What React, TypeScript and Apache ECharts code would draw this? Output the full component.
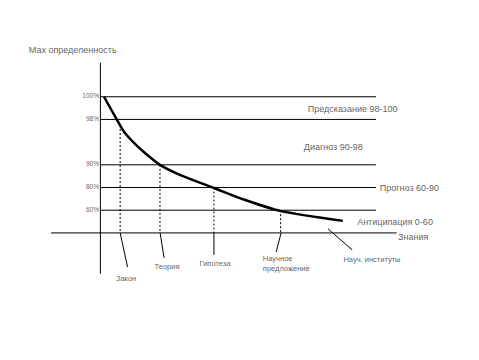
import React, { useEffect, useRef } from "react";
import * as echarts from "echarts";

// Certainty levels (drawn as horizontal lines), in level units of the diagram
const levelY = [6, 5, 3, 2, 1];
const levelLabels = ["100%", "98%", "90%", "80%", "60%"];
const levelEndX = 55.8;

// Zone names on the right
const zoneNames = ["Предсказание 98-100", "Диагноз 90-98", "Прогноз 60-90", "Антиципация 0-60", "Знания"];
const zoneX = [42.0, 41.2, 56.6, 52.0, 60.3];
const zoneY = [5.46, 3.78, 1.98, 0.48, -0.18];

// Certainty curve
const curveX = [0.73, 3.36, 3.97, 4.98, 7.01, 9.03, 12.07, 16.1, 23.0, 29.2, 36.4, 49.1];
const curveY = [6.0, 4.98, 4.75, 4.4, 3.92, 3.52, 3.0, 2.56, 1.98, 1.46, 0.97, 0.53];

// Milestones on the knowledge axis
const milestoneNames = ["Закон", "Теория", "Гипотеза", "Научное\nпредложение", "Науч. институты"];
const dashX = [4, 12.07, 23, 36.5];
const dashTopY = [4.75, 3, 2, 1];
const leaderStartX = [4, 12.1, 23, 36.6, 46.1];
const leaderStartY = [0, 0, 0, 0, 0.18];
const leaderEndX = [5.5, 12.9, 23, 35.6, 51];
const leaderEndY = [-1.5, -1.1, -0.97, -0.84, -0.75];
const labelX = [5.2, 13.5, 23.2, 32.9, 55.0];
const labelY = [-1.99, -1.5, -1.33, -1.33, -1.15];
const labelAlign = ["center", "center", "center", "left", "center"];

const yTitle = "Мах определенность";

const X_MIN = -16;
const X_MAX = 70;
const Y_MIN = -3;
const Y_MAX = 8.5;

const FONT = "Liberation Sans, Arial, sans-serif";
const TEXT = "#333";

export default function App() {
  const ref = useRef<HTMLDivElement>(null);
  useEffect(() => {
    if (!ref.current) return;
    const chart = echarts.init(ref.current, undefined, { renderer: "svg" });

    const seg = (pts: number[][], dashed = false, width = 1) => ({
      type: "line",
      data: pts,
      showSymbol: false,
      symbol: "none",
      silent: true,
      clip: false,
      lineStyle: { color: "#000", width, type: dashed ? [2, 2] : "solid" },
    });

    const series: any[] = [];
    // axes
    series.push(seg([[X_MIN + 6, 0], [60, 0]]));
    series.push(seg([[0, -1.8], [0, 7.5]]));
    // level lines
    levelY.forEach((y) => series.push(seg([[0, y], [levelEndX, y]])));
    // dashed drop lines
    dashX.forEach((x, i) => series.push(seg([[x, dashTopY[i]], [x, 0]], true)));
    // leader lines
    leaderStartX.forEach((x, i) =>
      series.push(seg([[x, leaderStartY[i]], [leaderEndX[i], leaderEndY[i]]]))
    );
    // curve
    series.push({
      type: "line",
      data: curveX.map((x, i) => [x, curveY[i]]),
      showSymbol: false,
      symbol: "none",
      smooth: 0.25,
      clip: false,
      lineStyle: { color: "#000", width: 2.5 },
    });

    const textPoint = (x: number, y: number, text: string, size: number, align: string) => ({
      value: [x, y],
      label: {
        show: true,
        position: "inside",
        formatter: text,
        fontSize: size,
        fontFamily: FONT,
        color: TEXT,
        align,
        verticalAlign: "middle",
        lineHeight: 10,
      },
    });

    const texts: any[] = [];
    levelY.forEach((y, i) => texts.push(textPoint(-0.3, y + 0.04, levelLabels[i], 6.5, "right")));
    zoneNames.forEach((n, i) => texts.push(textPoint(zoneX[i], zoneY[i], n, 9, "left")));
    milestoneNames.forEach((n, i) => texts.push(textPoint(labelX[i], labelY[i], n, 7.5, labelAlign[i])));
    texts.push(textPoint(-14.5, 8.06, yTitle, 9, "left"));

    series.push({
      type: "scatter",
      data: texts,
      symbolSize: 0,
      clip: false,
      silent: true,
    });

    chart.setOption({
      animation: false,
      grid: { left: 21.4, top: 40, width: 424.6, height: 261 },
      xAxis: { type: "value", min: X_MIN, max: X_MAX, show: false },
      yAxis: { type: "value", min: Y_MIN, max: Y_MAX, show: false },
      series,
    });
    return () => chart.dispose();
  }, []);
  return <div ref={ref} style={{ width: 479, height: 360, position: "absolute", left: 0, top: 0, background: "#fff" }} />;
}
